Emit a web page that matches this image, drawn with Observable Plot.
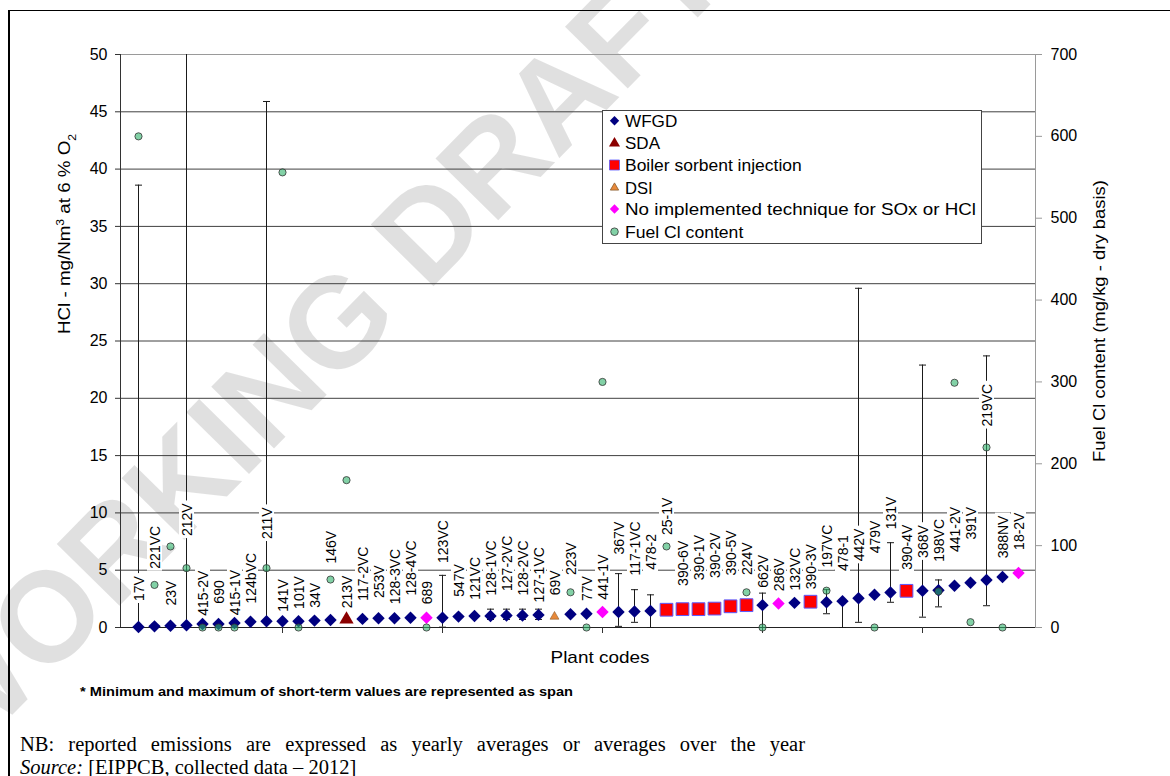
<!DOCTYPE html>
<html><head><meta charset="utf-8">
<script src="https://cdn.jsdelivr.net/npm/d3@7"></script>
<script src="https://cdn.jsdelivr.net/npm/@observablehq/plot@0.6"></script>
<style>
html,body{margin:0;padding:0;background:#fff;}
body{width:1170px;height:776px;overflow:hidden;position:relative;font-family:"Liberation Sans",Arial,sans-serif;}
.layer{position:absolute;left:0;top:0;}
#frame{position:absolute;left:8px;top:10px;width:1200px;height:800px;border-left:2px solid #000;border-top:1.5px solid #000;}
</style></head><body>
<svg id="wm" class="layer" width="1170" height="776"></svg>
<div id="frame"></div>
<div id="chart" class="layer"></div>
<svg id="over" class="layer" width="1170" height="776"></svg>
<script>
// ---------------- data ----------------
const codes = ["17V","221VC","23V","212V","415-2V","690","415-1V","124bVC","211V","141V","101V","34V","146V","213V","117-2VC","253V","128-3VC","128-4VC","689","123VC","547V","121VC","128-1VC","127-2VC","128-2VC","127-1VC","69V","223V","77V","441-1V","367V","117-1VC","478-2","25-1V","390-6V","390-1V","390-2V","390-5V","224V","662V","286V","132VC","390-3V","197VC","478-1","442V","479V","131V","390-4V","368V","198VC","441-2V","391V","219VC","388NV","18-2V"];
const W_ = "WFGD", S_ = "SDA", B_ = "Boiler sorbent injection", D_ = "DSI", N_ = "No implemented technique for SOx or HCl";
const technique = [W_,W_,W_,W_,W_,W_,W_,W_,W_,W_,W_,W_,W_,S_,W_,W_,W_,W_,N_,W_,W_,W_,W_,W_,W_,W_,D_,W_,W_,N_,W_,W_,W_,B_,B_,B_,B_,B_,B_,W_,N_,W_,B_,W_,W_,W_,W_,W_,B_,W_,W_,W_,W_,W_,W_,N_];
// HCl yearly average, mg/Nm3 at 6 % O2
const hcl = [0.05,0.1,0.15,0.2,0.3,0.3,0.4,0.5,0.55,0.55,0.55,0.6,0.65,0.7,0.75,0.8,0.8,0.85,0.85,0.85,0.95,1.0,1.0,1.05,1.05,1.1,0.95,1.15,1.2,1.35,1.35,1.4,1.45,1.55,1.6,1.6,1.65,1.85,1.95,1.95,2.1,2.15,2.25,2.2,2.3,2.55,2.85,3.05,3.2,3.2,3.25,3.65,3.9,4.15,4.4,4.75];
// short-term minimum / maximum (span)
const hclMin = [0,null,null,0.2,null,null,null,null,0.55,null,null,null,null,null,null,null,null,null,null,0.03,null,null,0.7,0.7,0.7,0.7,null,null,null,null,0.1,0.45,0,null,null,null,null,null,null,0,null,null,null,1.2,0,0.45,null,2.2,null,0.9,1.8,null,null,1.9,null,null];
const hclMax = [38.6,null,null,50,null,null,null,null,45.9,null,null,null,null,null,null,null,null,null,null,4.55,null,null,1.6,1.6,1.6,1.6,null,null,null,null,4.7,3.3,2.85,null,null,null,null,null,null,3.0,null,null,null,3.3,2.3,29.6,null,7.4,null,22.9,4.15,null,null,23.7,null,null];
// fuel Cl content, mg/kg dry basis (right axis)
const fuelCl = [600,52,99,72.5,0,0,0,null,72.5,556,0,null,58.6,180,null,null,null,null,0,null,null,null,null,null,null,null,null,43,0,300,null,null,null,99,null,null,null,null,43,0,null,null,null,45,null,null,0,null,null,null,44,299,6.5,220,0,null];
// where each plant-code label sits (HCl units)
const labelAt = [3.4,7.0,3.0,9.4,3.0,3.1,3.05,4.3,9.1,2.8,3.05,2.8,7.0,3.1,4.7,4.0,4.45,5.2,3.05,7.5,4.1,4.3,5.2,5.6,5.2,4.6,3.9,6.0,3.4,4.4,7.8,6.9,6.6,9.7,5.6,6.1,6.3,6.5,6.0,4.9,4.6,5.1,5.3,7.1,6.5,7.2,7.9,10.0,7.0,7.5,7.6,8.55,9.1,19.4,7.9,8.4];
const leftTicks = [0,5,10,15,20,25,30,35,40,45,50];
const rightTicks = [0,100,200,300,400,500,600,700];
const xTickCodes = ["141V","123VC","441-1V","662V","368V"];
const legendItems = [W_, S_, B_, D_, N_, "Fuel Cl content"];

// ---------------- build ----------------
const RATIO = 50/700; // right axis -> left axis units
const ML=120, MR=135, MT=54, MB=53, PW=1170, PH=680;
const pxPerUnit = (PH-MT-MB)/50;
const cv = document.createElement("canvas").getContext("2d");
cv.font = "14px 'Liberation Sans', Arial";
const rows = codes.map((c,i)=>({code:c, tech:technique[i], v:hcl[i], min:hclMin[i], max:hclMax[i],
  fuel: fuelCl[i]==null?null:fuelCl[i]*RATIO, lab:labelAt[i],
  half:(cv.measureText(c).width+5)/2/pxPerUnit}));
const bars = rows.filter(d=>d.max!=null);
const caps = bars.flatMap(d=>[{code:d.code,v:d.min},{code:d.code,v:d.max}]).filter(d=>d.v<50);
const capSym = {draw(ctx){ctx.moveTo(-3.5,0);ctx.lineTo(3.5,0);}};
const style = {
  [W_]:{symbol:"diamond2", fill:"#000080", r:5.6},
  [S_]:{symbol:"triangle", fill:"#8B0000", r:5.3},
  [B_]:{symbol:"square", fill:"#FF0000", stroke:"#5a5aff", strokeWidth:1, r:7.2},
  [D_]:{symbol:"triangle", fill:"#E8893A", stroke:"#8a5a2a", strokeWidth:0.6, r:3.3},
  [N_]:{symbol:"diamond2", fill:"#FF00FF", r:5.6}
};

const plot = Plot.plot({
  width: PW, height: PH, marginLeft: ML, marginRight: MR, marginTop: MT, marginBottom: MB,
  style: {background:"transparent", fontFamily:"'Liberation Sans', Arial, sans-serif", fontSize:"16px", color:"#000", overflow:"visible"},
  x: {type:"point", domain: codes, padding: 1},
  y: {domain:[0,50]},
  marks: [
    Plot.frame({stroke:"#9a9a9a"}),
    Plot.ruleY(leftTicks.filter(t=>t>0 && t<50), {stroke:"#404040", strokeWidth:1}),
    Plot.ruleY([0], {stroke:"#222"}),
    Plot.axisY({anchor:"left", ticks:leftTicks, tickSize:5, tickPadding:8, stroke:"#333", fill:"#000", label:null, tickFormat:d=>String(d)}),
    Plot.axisY({anchor:"right", ticks:rightTicks.map(t=>t*RATIO), tickSize:6, tickPadding:9, stroke:"#999", fill:"#000", label:null, tickFormat:d=>String(Math.round(d/RATIO))}),
    Plot.axisX({anchor:"bottom", ticks:xTickCodes, tickSize:6, tickFormat:()=>"", stroke:"#333", label:null}),
    Plot.ruleX(bars, {x:"code", y1:"min", y2:"max", stroke:"#1a1a1a", strokeWidth:1}),
    Plot.dot(caps, {x:"code", y:"v", symbol:capSym, fill:"none", stroke:"#1a1a1a", strokeWidth:1, r:3}),
    Plot.ruleX(rows, {x:"code", y1:d=>d.lab-d.half, y2:d=>d.lab+d.half, stroke:"white", strokeWidth:15}),
    Plot.text(rows, {x:"code", y:"lab", text:"code", rotate:-90, fontSize:14, fill:"#000", textAnchor:"middle", lineAnchor:"middle", dx:1}),
    ...[W_,S_,B_,D_,N_].map(t=>Plot.dot(rows.filter(d=>d.tech===t), {x:"code", y:"v", ...style[t]})),
    Plot.dot(rows.filter(d=>d.fuel!=null), {x:"code", y:"fuel", symbol:"circle", r:3.6, fill:"#2fb36a", fillOpacity:0.6, stroke:"#333", strokeWidth:0.8})
  ]
});
document.getElementById("chart").appendChild(plot);
// dark left axis line
d3.select(plot).append("line").attr("x1",ML+0.5).attr("x2",ML+0.5).attr("y1",MT).attr("y2",PH-MB).attr("stroke","#333");

// ---------------- watermark ----------------
d3.select("#wm").append("text")
  .attr("x",-41).attr("y",769).attr("transform","rotate(-45.5 -41 769)")
  .attr("font-family","'Liberation Sans', Arial").attr("font-weight","bold").attr("font-size",128)
  .attr("fill","#000").attr("fill-opacity",0.12).text("WORKING DRAFT IN PROGRESS");

// ---------------- annotations & legend ----------------
const ov = d3.select("#over");
function txt(o){
  const t = ov.append("text").attr("x",o.x).attr("y",o.y)
    .attr("font-family",o.family||"'Liberation Sans', Arial, sans-serif")
    .attr("font-size",o.size).attr("fill","#000");
  if(o.weight) t.attr("font-weight",o.weight);
  if(o.anchor) t.attr("text-anchor",o.anchor);
  if(o.rotate) t.attr("transform",`rotate(${o.rotate} ${o.x} ${o.y})`);
  if(o.len){t.attr("textLength",o.len).attr("lengthAdjust","spacingAndGlyphs");}
  return t;
}
// left axis title
{
  const t = txt({x:70, y:234, size:17, anchor:"middle", rotate:-90, len:200});
  t.append("tspan").text("HCl - mg/Nm");
  t.append("tspan").attr("font-size",11).attr("baseline-shift","super").text("3");
  t.append("tspan").text("  at 6 % O");
  t.append("tspan").attr("font-size",11).attr("baseline-shift","sub").text("2");
}
txt({x:1105, y:321, size:17, anchor:"middle", rotate:-90, len:282}).text("Fuel Cl content (mg/kg - dry basis)");
txt({x:600, y:663, size:17, anchor:"middle", len:99}).text("Plant codes");
txt({x:80, y:696, size:12.5, weight:"bold", family:"'Liberation Sans Narrow', 'Liberation Sans', Arial", len:493}).text("* Minimum and maximum of short-term values are represented as span");
// NB line: justified line (slightly widened word gaps)
{
  const s = "NB: reported emissions are expressed as yearly averages or averages over the year";
  cv.font = "20.5px 'Liberation Serif', 'Times New Roman'";
  const nat = cv.measureText(s).width;
  const gaps = s.split(" ").length - 1;
  const ws = Math.max(0, (785 - nat) / gaps);
  txt({x:20, y:751, size:20.5, family:"'Liberation Serif', 'Times New Roman', serif"}).attr("word-spacing", ws).text(s);
}
{
  const t = txt({x:20, y:774, size:20.5, family:"'Liberation Serif', 'Times New Roman', serif"});
  t.append("tspan").attr("font-style","italic").text("Source:");
  t.append("tspan").text(" [EIPPCB, collected data – 2012]");
}
// legend
ov.append("rect").attr("x",602.5).attr("y",110.5).attr("width",379).attr("height",133).attr("fill","#fff").attr("stroke","#444");
const lgY = [120.7,143.3,165,187.7,209,231.7];
const lgLen = [52.3,35,176.7,27.7,351,118.3];
const lgSym = [
  {type:d3.symbolDiamond2, size:(4.7/0.62625)**2, fill:"#000080"},
  {type:d3.symbolTriangle, size:Math.PI*4.1*4.1, fill:"#8B0000"},
  {type:d3.symbolSquare, size:10*10, fill:"#FF0000", stroke:"#5a5aff"},
  {type:d3.symbolTriangle, size:Math.PI*3.1*3.1, fill:"#E8893A", stroke:"#8a5a2a"},
  {type:d3.symbolDiamond2, size:(4.7/0.62625)**2, fill:"#FF00FF"},
  {type:d3.symbolCircle, size:Math.PI*3.8*3.8, fill:"#2fb36a", op:0.6, stroke:"#333"}
];
legendItems.forEach((name,i)=>{
  const s = lgSym[i];
  const p = ov.append("path").attr("d", d3.symbol(s.type, s.size)()).attr("transform",`translate(614.5,${lgY[i]})`)
    .attr("fill", s.fill).attr("fill-opacity", s.op||1);
  if(s.stroke) p.attr("stroke", s.stroke).attr("stroke-width", 0.8);
  txt({x:625, y:lgY[i]+6, size:17, len:lgLen[i]}).text(name);
});
</script>
</body></html>
